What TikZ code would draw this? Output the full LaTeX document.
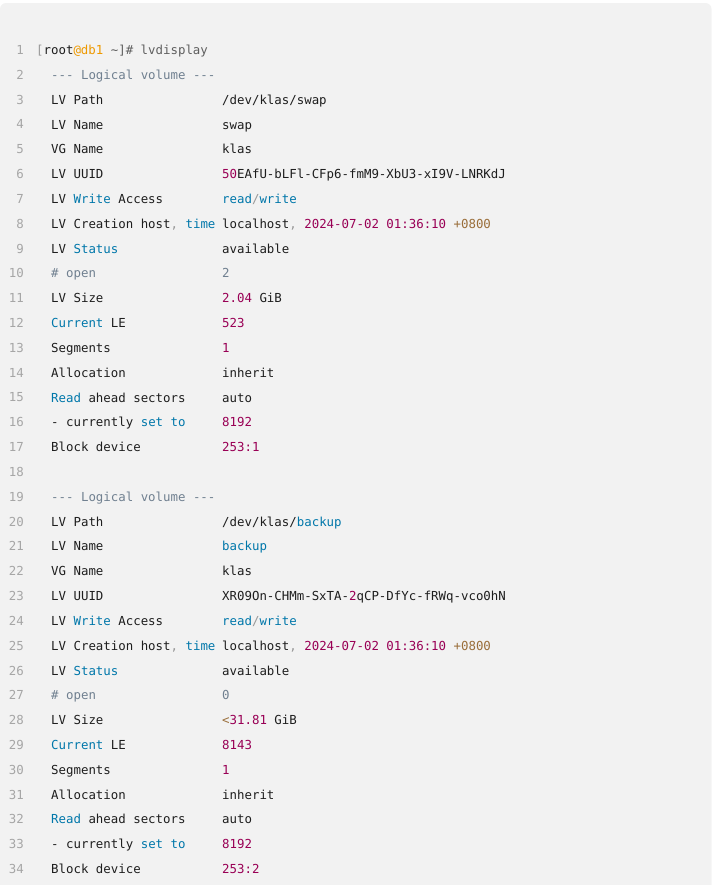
\documentclass[tikz,border=0pt]{standalone}
\usepackage{fontspec}
\newfontfamily\codefont{DejaVu Sans Mono}[Ligatures=TeXOff]

\definecolor{codebg}{HTML}{F2F2F2}
\definecolor{codetext}{HTML}{1E1E1E}
\definecolor{linenum}{HTML}{A6A6A6}
\definecolor{kwblue}{HTML}{0077AA}
\definecolor{numpurple}{HTML}{990055}
\definecolor{opbrown}{HTML}{9A6E3A}
\definecolor{cmgray}{HTML}{708090}
\definecolor{pugray}{HTML}{999999}
\definecolor{shgray}{HTML}{5F5F5F}
\definecolor{atorange}{HTML}{EE9900}

\newcommand{\kw}[1]{\textcolor{kwblue}{#1}}
\newcommand{\nm}[1]{\textcolor{numpurple}{#1}}
\newcommand{\op}[1]{\textcolor{opbrown}{#1}}
\newcommand{\cm}[1]{\textcolor{cmgray}{#1}}
\newcommand{\pu}[1]{\textcolor{pugray}{#1}}

\tikzset{
  code/.style={inner sep=0pt, anchor=base west, text=codetext,
    font=\codefont\fontsize{12.4bp}{14bp}\selectfont},
  lnum/.style={code, anchor=base east, text=linenum}
}

\begin{document}
\begin{tikzpicture}[x=1bp, y=-1bp]
  \useasboundingbox (0,0) rectangle (712,885);
  \begin{scope}
    \clip (0,0) rectangle (712,885);
    \fill[codebg, rounded corners=6bp] (0,3) rectangle (711.5,905);
  \end{scope}

  % line numbers
  \foreach \i in {1,...,34} {
    \pgfmathsetmacro{\ly}{54.5+(\i-1)*24.82}
    \node[lnum] (n\i) at (24,\ly) {\i};
  }

  % first volume
  \node[code] (c1) at (36,54.5) {\pu{[}root\textcolor{atorange}{@db1} \textcolor{shgray}{\textasciitilde]\# lvdisplay}};
  \node[code] (c2) at (51,79.3) {\cm{--- Logical volume ---}};
  \node[code] (k3) at (51,104.1) {LV Path};
  \node[code] (v3) at (222,104.1) {/dev/klas/swap};
  \node[code] (k4) at (51,129.0) {LV Name};
  \node[code] (v4) at (222,129.0) {swap};
  \node[code] (k5) at (51,153.8) {VG Name};
  \node[code] (v5) at (222,153.8) {klas};
  \node[code] (k6) at (51,178.6) {LV UUID};
  \node[code] (v6) at (222,178.6) {\nm{50}EAfU-bLFl-CFp6-fmM9-XbU3-xI9V-LNRKdJ};
  \node[code] (k7) at (51,203.4) {LV \kw{Write} Access};
  \node[code] (v7) at (222,203.4) {\kw{read}\pu{/}\kw{write}};
  \node[code] (k8) at (51,228.2) {LV Creation host\pu{,} \kw{time}};
  \node[code] (v8) at (222,228.2) {localhost\pu{,} \nm{2024-07-02 01:36:10} \op{+0800}};
  \node[code] (k9) at (51,253.1) {LV \kw{Status}};
  \node[code] (v9) at (222,253.1) {available};
  \node[code] (k10) at (51,277.9) {\cm{\# open}};
  \node[code] (v10) at (222,277.9) {\cm{2}};
  \node[code] (k11) at (51,302.7) {LV Size};
  \node[code] (v11) at (222,302.7) {\nm{2.04} GiB};
  \node[code] (k12) at (51,327.5) {\kw{Current} LE};
  \node[code] (v12) at (222,327.5) {\nm{523}};
  \node[code] (k13) at (51,352.3) {Segments};
  \node[code] (v13) at (222,352.3) {\nm{1}};
  \node[code] (k14) at (51,377.2) {Allocation};
  \node[code] (v14) at (222,377.2) {inherit};
  \node[code] (k15) at (51,402.0) {\kw{Read} ahead sectors};
  \node[code] (v15) at (222,402.0) {auto};
  \node[code] (k16) at (51,426.8) {- currently \kw{set to}};
  \node[code] (v16) at (222,426.8) {\nm{8192}};
  \node[code] (k17) at (51,451.6) {Block device};
  \node[code] (v17) at (222,451.6) {\nm{253:1}};

  % second volume
  \node[code] (c19) at (51,501.3) {\cm{--- Logical volume ---}};
  \node[code] (k20) at (51,526.1) {LV Path};
  \node[code] (v20) at (222,526.1) {/dev/klas/\kw{backup}};
  \node[code] (k21) at (51,550.9) {LV Name};
  \node[code] (v21) at (222,550.9) {\kw{backup}};
  \node[code] (k22) at (51,575.7) {VG Name};
  \node[code] (v22) at (222,575.7) {klas};
  \node[code] (k23) at (51,600.5) {LV UUID};
  \node[code] (v23) at (222,600.5) {XR09On-CHMm-SxTA-\nm{2}qCP-DfYc-fRWq-vco0hN};
  \node[code] (k24) at (51,625.4) {LV \kw{Write} Access};
  \node[code] (v24) at (222,625.4) {\kw{read}\pu{/}\kw{write}};
  \node[code] (k25) at (51,650.2) {LV Creation host\pu{,} \kw{time}};
  \node[code] (v25) at (222,650.2) {localhost\pu{,} \nm{2024-07-02 01:36:10} \op{+0800}};
  \node[code] (k26) at (51,675.0) {LV \kw{Status}};
  \node[code] (v26) at (222,675.0) {available};
  \node[code] (k27) at (51,699.8) {\cm{\# open}};
  \node[code] (v27) at (222,699.8) {\cm{0}};
  \node[code] (k28) at (51,724.6) {LV Size};
  \node[code] (v28) at (222,724.6) {\op{<}\nm{31.81} GiB};
  \node[code] (k29) at (51,749.5) {\kw{Current} LE};
  \node[code] (v29) at (222,749.5) {\nm{8143}};
  \node[code] (k30) at (51,774.3) {Segments};
  \node[code] (v30) at (222,774.3) {\nm{1}};
  \node[code] (k31) at (51,799.1) {Allocation};
  \node[code] (v31) at (222,799.1) {inherit};
  \node[code] (k32) at (51,823.9) {\kw{Read} ahead sectors};
  \node[code] (v32) at (222,823.9) {auto};
  \node[code] (k33) at (51,848.7) {- currently \kw{set to}};
  \node[code] (v33) at (222,848.7) {\nm{8192}};
  \node[code] (k34) at (51,873.6) {Block device};
  \node[code] (v34) at (222,873.6) {\nm{253:2}};
\end{tikzpicture}
\end{document}
